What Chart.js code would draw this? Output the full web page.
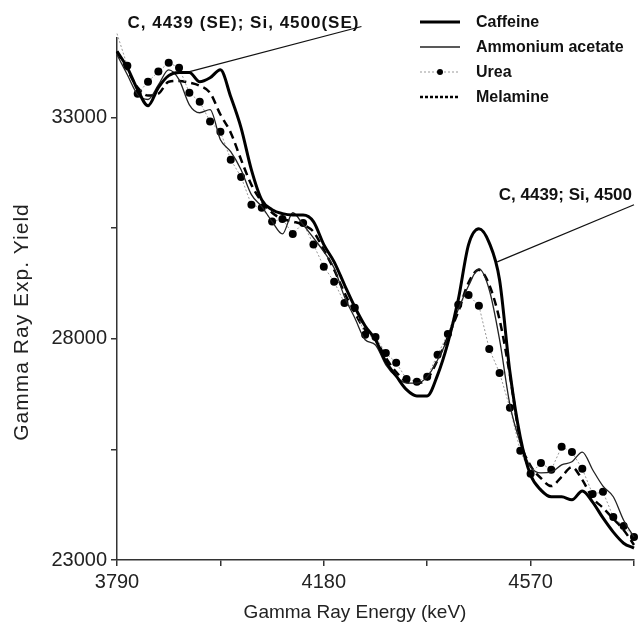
<!DOCTYPE html>
<html>
<head>
<meta charset="utf-8">
<script src="https://cdn.jsdelivr.net/npm/chart.js@4.4.1/dist/chart.umd.min.js"></script>
<style>
  html, body { margin: 0; padding: 0; background: #fff; }
  canvas { display: block; }
</style>
</head>
<body>
<canvas id="chart" width="638" height="626"></canvas>
<script>
// gamma ray energy (keV), one sample every 19.5 keV
const energies = [3790, 3809.5, 3829, 3848.5, 3868, 3887.5, 3907, 3926.5, 3946, 3965.5,
  3985, 4004.5, 4024, 4043.5, 4063, 4082.5, 4102, 4121.5, 4141, 4160.5,
  4180, 4199.5, 4219, 4238.5, 4258, 4277.5, 4297, 4316.5, 4336, 4355.5,
  4375, 4394.5, 4414, 4433.5, 4453, 4472.5, 4492, 4511.5, 4531, 4550.5,
  4570, 4589.5, 4609, 4628.5, 4648, 4667.5, 4687, 4706.5, 4726, 4745.5, 4765];

const caffeine = [34500, 34130, 33630, 33270, 33680, 33950, 34020, 34020, 33810, 33900,
  34080, 33470, 32770, 31820, 31140, 30920, 30830, 30800, 30800, 30650,
  30130, 29740, 29220, 28720, 28290, 27980, 27480, 27160, 26850, 26710,
  26710, 27180, 27910, 28880, 30130, 30490, 30170, 29330, 27250, 25780,
  24920, 24580, 24430, 24430, 24360, 24560, 24310, 23950, 23630, 23380, 23270];

const ammoniumAcetate = [34420, 33970, 33520, 33410, 33740, 34080, 33860, 33290, 33110, 33180,
  32500, 32230, 31820, 31260, 30990, 30650, 30370, 30850, 30580, 30280,
  29970, 29600, 28950, 28470, 27980, 27860, 27410, 27140, 27000, 27000,
  27140, 27520, 28020, 28660, 29200, 29580, 29110, 27980, 26510, 25650,
  25100, 24970, 24990, 25150, 25220, 25440, 25040, 24670, 24430, 23900, 23520];

const urea = [34900, 34170, 33540, 33810, 34040, 34240, 34130, 33560, 33360, 32910,
  32680, 32050, 31660, 31030, 30960, 30650, 30710, 30370, 30620, 30130,
  29630, 29290, 28810, 28700, 28090, 28040, 27680, 27460, 27090, 27030,
  27140, 27640, 28110, 28770, 28990, 28750, 27770, 27230, 26440, 25470,
  24950, 25190, 25040, 25560, 25440, 25060, 24490, 24540, 23970, 23770, 23520];

const melamine = [34490, 34080, 33680, 33500, 33540, 33810, 33830, 33790, 33720, 33560,
  33070, 32660, 32050, 31480, 31100, 30850, 30710, 30650, 30580, 30420,
  30010, 29560, 29040, 28590, 28200, 27980, 27570, 27250, 27030, 27000,
  27090, 27520, 28040, 28610, 29270, 29560, 29220, 28430, 27180, 25710,
  25130, 24850, 24670, 24880, 25100, 24810, 24400, 24180, 23930, 23680, 23340];

const xTicks = [3790, 3985, 4180, 4375, 4570, 4765];
const xLabels = [3790, 4180, 4570];
const yTicks = [23000, 25500, 28000, 30500, 33000];
const yLabels = [23000, 28000, 33000];

const FONT = '"Liberation Sans", Arial, sans-serif';

const toPoints = vals => vals.map((v, i) => ({ x: energies[i], y: v }));

// peak labels, anchored in data units
const notes = [
  { text: 'C, 4439 (SE); Si, 4500(SE)', from: [3927, 34040], to: [4251, 35060], dy: -3, spacing: '1px' },
  { text: 'C, 4439; Si, 4500', from: [4507, 29740], to: [4765, 31030], dy: -9, spacing: '0px' }
];

const overlay = {
  id: 'overlay',
  afterDraw(chart) {
    const { ctx, scales: { x, y } } = chart;
    ctx.save();

    // axis titles
    ctx.fillStyle = '#222';
    ctx.textAlign = 'center';
    ctx.textBaseline = 'middle';
    ctx.font = '19px ' + FONT;
    ctx.fillText('Gamma Ray Energy (keV)', 355, 613);
    ctx.save();
    ctx.translate(22, 322);
    ctx.rotate(-Math.PI / 2);
    ctx.font = '21px ' + FONT;
    ctx.letterSpacing = '1px';
    ctx.fillText('Gamma Ray Exp. Yield', 0, 0);
    ctx.restore();

    // peak annotations
    ctx.strokeStyle = '#111';
    ctx.lineWidth = 1.2;
    ctx.font = 'bold 17px ' + FONT;
    ctx.textAlign = 'right';
    notes.forEach(n => {
      const x0 = x.getPixelForValue(n.from[0]), y0 = y.getPixelForValue(n.from[1]);
      const x1 = x.getPixelForValue(n.to[0]), y1 = y.getPixelForValue(n.to[1]);
      ctx.beginPath();
      ctx.moveTo(x0, y0);
      ctx.lineTo(x1, y1);
      ctx.stroke();
      ctx.fillStyle = '#111';
      ctx.letterSpacing = n.spacing;
      ctx.fillText(n.text, x1 - 2, y1 + n.dy);
    });
    ctx.letterSpacing = '0px';

    // legend
    ctx.textAlign = 'left';
    ctx.font = 'bold 16px ' + FONT;
    chart.data.datasets.forEach((ds, i) => {
      const ly = 22 + 25 * i;
      ctx.beginPath();
      ctx.strokeStyle = ds.borderColor;
      ctx.lineWidth = ds.borderWidth;
      ctx.setLineDash(ds.legendDash || []);
      ctx.moveTo(420, ly);
      ctx.lineTo(460, ly);
      ctx.stroke();
      ctx.setLineDash([]);
      if (ds.pointRadius > 0) {
        ctx.beginPath();
        ctx.fillStyle = ds.pointBackgroundColor;
        ctx.arc(440, ly, 3, 0, Math.PI * 2);
        ctx.fill();
      }
      ctx.fillStyle = '#111';
      ctx.fillText(ds.label, 476, ly + 1);
    });
    ctx.restore();
  }
};

new Chart(document.getElementById('chart'), {
  type: 'line',
  data: {
    datasets: [
      {
        label: 'Caffeine',
        data: toPoints(caffeine),
        borderColor: '#000',
        borderWidth: 3,
        pointRadius: 0,
        cubicInterpolationMode: 'monotone',
        clip: false
      },
      {
        label: 'Ammonium acetate',
        data: toPoints(ammoniumAcetate),
        borderColor: '#222',
        borderWidth: 1.3,
        pointRadius: 0,
        cubicInterpolationMode: 'monotone',
        clip: false
      },
      {
        label: 'Urea',
        data: toPoints(urea),
        borderColor: '#999',
        borderWidth: 1,
        borderDash: [2, 2],
        legendDash: [2, 2],
        pointRadius: 4,
        pointBorderWidth: 0,
        pointBackgroundColor: '#000',
        tension: 0,
        clip: false
      },
      {
        label: 'Melamine',
        data: toPoints(melamine),
        borderColor: '#000',
        borderWidth: 2.5,
        borderDash: [8, 5],
        legendDash: [3, 2],
        pointRadius: 0,
        cubicInterpolationMode: 'monotone',
        clip: false
      }
    ]
  },
  options: {
    responsive: false,
    animation: false,
    layout: { padding: { top: 38, right: 3, left: 0, bottom: 0 } },
    plugins: {
      legend: { display: false },
      tooltip: { enabled: false }
    },
    scales: {
      x: {
        type: 'linear',
        min: 3790,
        max: 4765,
        afterBuildTicks: axis => { axis.ticks = xTicks.map(v => ({ value: v })); },
        afterFit: axis => { axis.height = 66; },
        ticks: {
          autoSkip: false,
          maxRotation: 0,
          padding: 4,
          color: '#222',
          font: { family: FONT, size: 20 },
          callback: v => xLabels.includes(v) ? String(v) : ''
        },
        grid: { drawOnChartArea: false, tickLength: 6, color: '#333', lineWidth: 1.5 },
        border: { color: '#333', width: 1.5 }
      },
      y: {
        min: 23000,
        max: 34800,
        afterBuildTicks: axis => { axis.ticks = yTicks.map(v => ({ value: v })); },
        afterFit: axis => { axis.width = 117; },
        ticks: {
          autoSkip: false,
          padding: 4,
          color: '#222',
          font: { family: FONT, size: 20 },
          callback: v => yLabels.includes(v) ? String(v) : ''
        },
        grid: { drawOnChartArea: false, tickLength: 6, color: '#333', lineWidth: 1.5 },
        border: { color: '#333', width: 1.5 }
      }
    }
  },
  plugins: [overlay]
});
</script>
</body>
</html>
